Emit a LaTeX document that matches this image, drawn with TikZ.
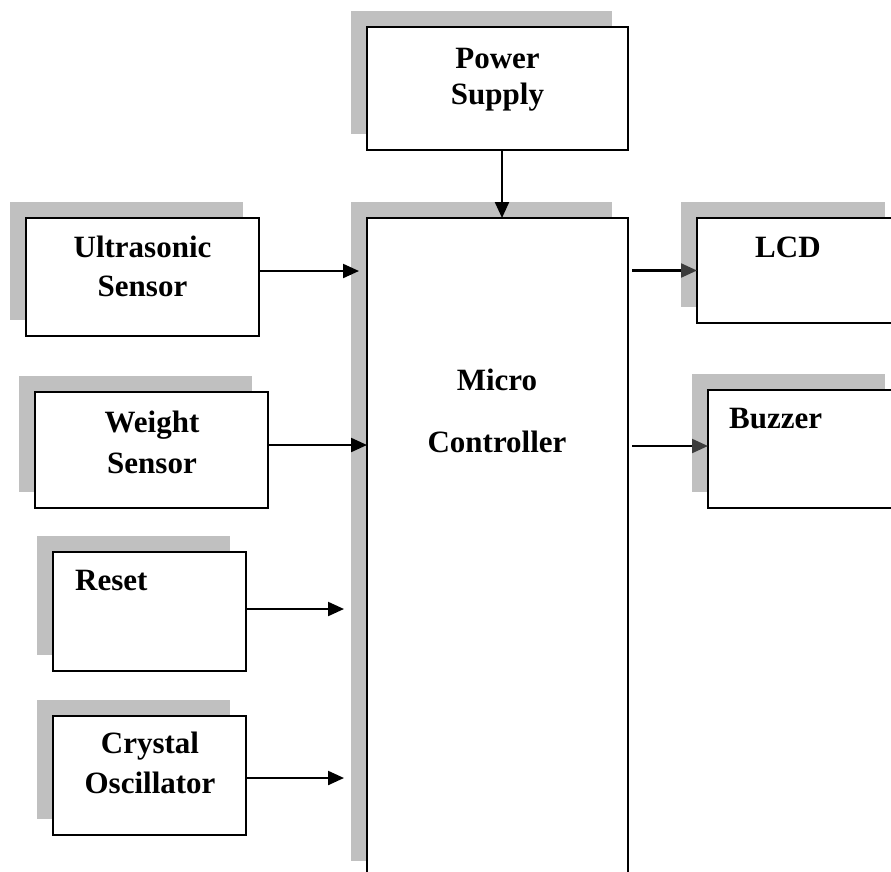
\documentclass[tikz,border=0pt]{standalone}
\usepackage{fontspec}
\setmainfont{Liberation Serif}
\usetikzlibrary{shadows,arrows.meta}
\definecolor{shadowgray}{HTML}{C0C0C0}
\definecolor{headgray}{HTML}{3C3C3C}
\begin{document}
\begin{tikzpicture}[x=1pt,y=-1pt,
  blk/.style={draw=black, line width=1.9pt, fill=white, inner sep=0pt, outer sep=0pt,
    general shadow={fill=shadowgray, draw=none, shadow xshift=-16pt, shadow yshift=16pt}},
  lbl/.style={inner sep=0pt, font=\fontsize{31}{36}\bfseries\selectfont, anchor=base},
  lblw/.style={lbl, anchor=base west},
  arr/.style={line width=2.2pt, -{Triangle[length=16pt,width=14pt]}},
  arrg/.style={line width=2.2pt, -{Triangle[length=16pt,width=14pt,color=headgray]}},
]
\useasboundingbox (0,0) rectangle (891,871);
\fill[white] (0,0) rectangle (891,871);

% boxes
\node[blk, minimum width=261pt, minimum height=123pt] (ps) at (497.5,88.5) {};
\node[blk, minimum width=261pt, minimum height=659pt] (mc) at (497.5,547.5) {};
\node[blk, minimum width=233pt, minimum height=118pt] (us) at (142.5,277) {};
\node[blk, minimum width=233pt, minimum height=116pt] (ws) at (151.5,450) {};
\node[blk, minimum width=193pt, minimum height=119pt] (rs) at (149.5,611.5) {};
\node[blk, minimum width=193pt, minimum height=119pt] (co) at (149.5,775.5) {};
\node[blk, minimum width=204pt, minimum height=105pt] (lcd) at (799,270.5) {};
\node[blk, minimum width=193pt, minimum height=118pt] (bz) at (804.5,449) {};

% labels
\node[lbl] (ps1) at (497.5,68) {Power};
\node[lbl] (ps2) at (497.5,104) {Supply};
\node[lbl] (mc1) at (497,390) {Micro};
\node[lbl] (mc2) at (497,452) {Controller};
\node[lbl] (us1) at (142.5,257) {Ultrasonic};
\node[lbl] (us2) at (142.5,296) {Sensor};
\node[lbl] (ws1) at (152,432) {Weight};
\node[lbl] (ws2) at (152,473) {Sensor};
\node[lblw] (rs1) at (75,590) {Reset};
\node[lbl] (co1) at (150,753) {Crystal};
\node[lbl] (co2) at (150,793) {Oscillator};
\node[lblw] (lcd1) at (755,257) {LCD};
\node[lblw] (bz1) at (729,428) {Buzzer};

% connector end points
\coordinate (psA) at ([xshift=4.5pt]ps.south);
\coordinate (usA) at ([yshift=6pt]us.east);
\coordinate (wsA) at ([yshift=5pt]ws.east);
\coordinate (rsA) at ([yshift=2.5pt]rs.east);
\coordinate (coA) at ([yshift=-2.5pt]co.east);
\coordinate (lcdA) at (lcd.west);
\coordinate (bzA) at ([yshift=3pt]bz.west);

% connectors
\draw[arr] (psA) -- (psA |- mc.north);
\draw[arr, shorten >=8pt] (usA) -- (usA -| mc.west);
\draw[arr] (wsA) -- (wsA -| mc.west);
\draw[arr, shorten >=23pt] (rsA) -- (rsA -| mc.west);
\draw[arr, shorten >=23pt] (coA) -- (coA -| mc.west);
\draw[arrg, shorten <=4pt] (lcdA -| mc.east) -- (lcdA);
\draw[arrg, shorten <=4pt] (bzA -| mc.east) -- (bzA);
\end{tikzpicture}
\end{document}
